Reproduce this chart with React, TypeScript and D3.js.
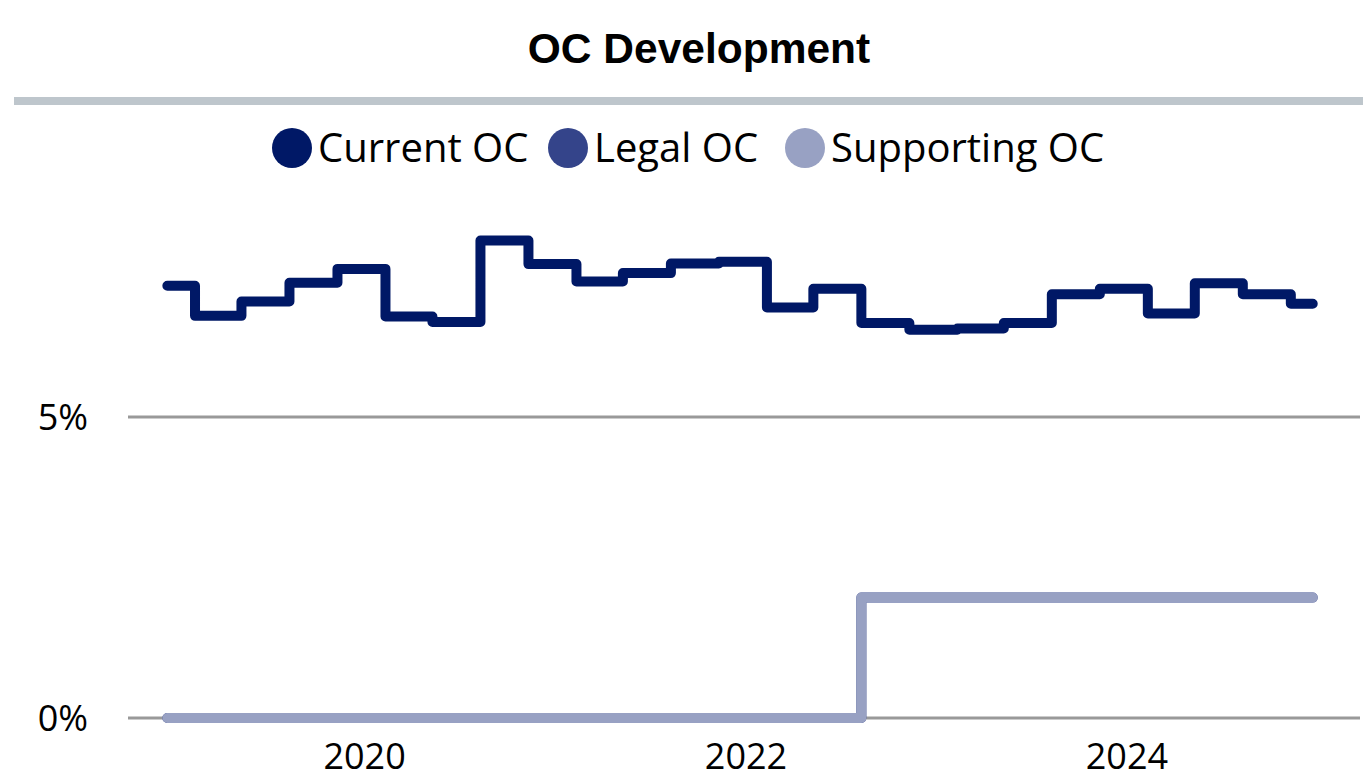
import * as d3 from 'd3';

const dates = [
  '2018-12-19', '2019-02-10', '2019-05-10', '2019-08-10', '2019-11-10',
  '2020-02-10', '2020-05-10', '2020-08-10', '2020-11-10',
  '2021-02-10', '2021-05-10', '2021-08-10', '2021-11-10',
  '2022-02-10', '2022-05-10', '2022-08-10', '2022-11-10',
  '2023-02-10', '2023-05-10', '2023-08-10', '2023-11-10',
  '2024-02-10', '2024-05-10', '2024-08-10', '2024-11-10', '2024-12-22',
];
const currentOC = [
  7.18, 6.68, 6.92, 7.23, 7.46, 6.67, 6.58, 7.93, 7.54, 7.25, 7.39, 7.55, 7.58,
  6.82, 7.13, 6.56, 6.45, 6.47, 6.56, 7.04, 7.13, 6.72, 7.22, 7.04, 6.88, 6.88,
];
const legalOC = [
  0, 0, 0, 0, 0, 0, 0, 0, 0, 0, 0, 0, 0, 0, 0, 2, 2, 2, 2, 2, 2, 2, 2, 2, 2, 2,
];
const supportingOC = [
  0, 0, 0, 0, 0, 0, 0, 0, 0, 0, 0, 0, 0, 0, 0, 2, 2, 2, 2, 2, 2, 2, 2, 2, 2, 2,
];
const yTicks = [0, 5];
const seriesNames = ['Current OC', 'Legal OC', 'Supporting OC'];
const seriesColors = ['#001866', '#34448a', '#98a1c3'];

const parse = d3.timeParse('%Y-%m-%d');
const W = 1363;
const H = 772;
const FONT = "'Segoe UI', 'Open Sans', 'Noto Sans', sans-serif";

export default function App() {
  const x = d3
    .scaleTime()
    .domain([parse('2018-09-25')!, parse('2025-03-13')!])
    .range([123, 1355]);
  const y = d3.scaleLinear().domain([0, 5]).range([718, 417]);

  const line = d3
    .line<[Date, number]>()
    .x((d) => x(d[0]))
    .y((d) => y(d[1]))
    .curve(d3.curveStepAfter);

  const series = [currentOC, legalOC, supportingOC].map((vals) =>
    vals.map((v, i) => [parse(dates[i])!, v] as [Date, number])
  );
  const xTicks = x.ticks(d3.timeYear.every(2)!);

  const legendX = [292, 568, 805];

  return (
    <div style={{ position: 'absolute', left: 0, top: 0 }}>
      <svg width={W} height={H} style={{ display: 'block', background: '#fff' }}>
        <text
          x={699}
          y={63}
          textAnchor="middle"
          fontFamily="Arial, 'Liberation Sans', sans-serif"
          fontWeight="bold"
          fontSize={42.5}
          fill="#000"
        >
          OC Development
        </text>
        <line x1={14} x2={W} y1={101} y2={101} stroke="#bec6cc" strokeWidth={8} />

        {seriesNames.map((name, i) => (
          <g key={name}>
            <circle cx={legendX[i]} cy={148} r={20} fill={seriesColors[i]} />
            <text
              x={legendX[i] + 26}
              y={162}
              fontFamily={FONT}
              fontSize={40}
              fill="#000"
            >
              {name}
            </text>
          </g>
        ))}

        {yTicks.map((t) => (
          <g key={t}>
            <line x1={128} x2={1360} y1={y(t)} y2={y(t)} stroke="#999" strokeWidth={3} />
            <text
              x={88}
              y={y(t)}
              dy="0.35em"
              textAnchor="end"
              fontFamily={FONT}
              fontSize={36}
              fill="#000"
            >
              {t}%
            </text>
          </g>
        ))}

        {xTicks.map((t) => (
          <text
            key={t.getTime()}
            x={x(t)}
            y={769}
            textAnchor="middle"
            fontFamily={FONT}
            fontSize={36}
            fill="#000"
          >
            {d3.timeFormat('%Y')(t)}
          </text>
        ))}

        {series.map((s, i) => (
          <path
            key={seriesNames[i]}
            d={line(s) ?? ''}
            fill="none"
            stroke={seriesColors[i]}
            strokeWidth={10}
            strokeLinecap="round"
            strokeLinejoin="round"
          />
        ))}
      </svg>
    </div>
  );
}
